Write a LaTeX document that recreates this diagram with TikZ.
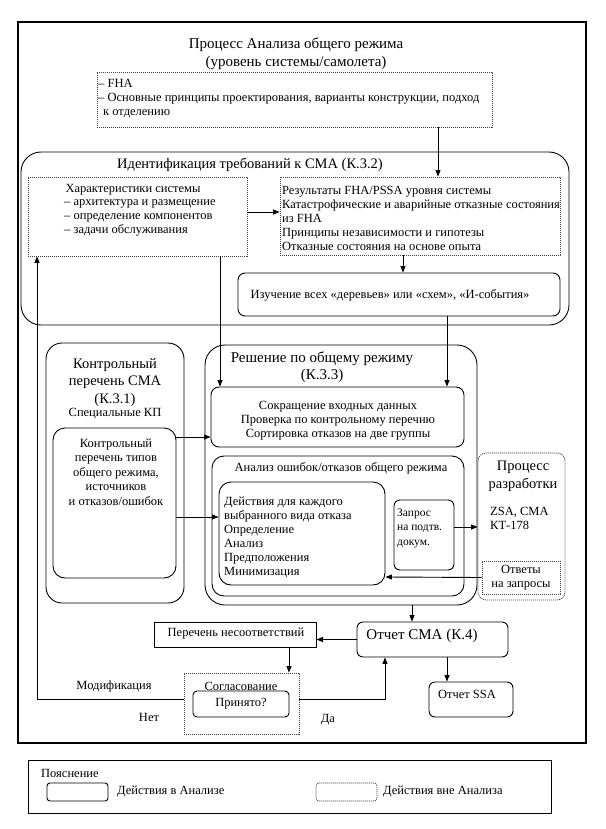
\documentclass[tikz,border=0pt]{standalone}
\usepackage{fontspec}
\setmainfont{Liberation Serif}
\usetikzlibrary{arrows.meta,fit,calc}
\tikzset{
 box/.style={draw, line width=0.9pt, rounded corners=6pt, inner sep=0pt},
 dbox/.style={draw=black!75, dash pattern=on 1.2pt off 0.8pt, line width=0.7pt, inner sep=0pt},
 sbox/.style={draw, line width=1pt, inner sep=0pt},
 arr/.style={-{Triangle[length=6.5pt,width=5pt]}, line width=0.9pt},
 t/.style={inner sep=0pt, font=\fontsize{12.5}{14}\selectfont, align=center},
 tl/.style={t, align=left, anchor=west},
 big/.style={inner sep=0pt, font=\fontsize{15}{18}\selectfont, align=center},
}
\begin{document}
\begin{tikzpicture}[x=1pt,y=-1pt]
\useasboundingbox (0,0) rectangle (605,829);
% outer frame
\node[sbox, line width=1.1pt, fit={(18,22) (586,743)}] (outer) {};
\node[big] (title) at (296,53.5) {Процесс Анализа общего режима\\(уровень системы/самолета)};
% FHA
\node[dbox, fit={(97,72) (492,127)}] (fha) {};
\node[tl] (fhat) at (98,99) {– FHA\\– Основные принципы проектирования, варианты конструкции, подход\\\hspace*{5pt}к отделению};
% identification
\node[box, rounded corners=20pt, fit={(21,152) (569,325)}] (ident) {};
\node[big, font=\fontsize{14.5}{16}\selectfont] (identt) at (250,165) {Идентификация требований к СМА (К.3.2)};
\node[dbox, fit={(28,177) (247,256)}] (char) {};
\node[t] (chart) at (133,190) {Характеристики системы};
\node[tl] (chari) at (64,218) {– архитектура и размещение\\– определение компонентов\\– задачи обслуживания};
\node[dbox, fit={(280,177) (560,255)}] (res) {};
\node[tl] (rest) at (282,218) {Результаты FHA/PSSA уровня системы\\Катастрофические и аварийные отказные состояния\\из FHA\\Принципы независимости и гипотезы\\Отказные состояния на основе опыта};
\node[box, rounded corners=7pt, fit={(238,273) (560,316)}] (study) {};
\node[t] (studyt) at (390,295) {Изучение всех «деревьев» или «схем», «И-события»};
% checklist
\node[box, rounded corners=16pt, fit={(46,343) (184,603)}] (kp) {};
\node[big, font=\fontsize{14.5}{17.5}\selectfont] (kpt) at (115,382.5) {Контрольный\\перечень СМА\\(К.3.1)};
\node[t] (kps) at (115,414) {Специальные КП};
\node[box, rounded corners=12pt, fit={(53,428) (176,578)}] (kpin) {};
\node[t, font=\fontsize{12.5}{14.5}\selectfont] (kpint) at (116,472) {Контрольный\\перечень типов\\общего режима,\\источников\\и отказов/ошибок};
% decision
\node[box, rounded corners=20pt, fit={(205,345) (477,605)}] (resh) {};
\node[big, font=\fontsize{15}{16.5}\selectfont] (resht) at (322,367) {Решение по общему режиму\\(К.3.3)};
\node[box, rounded corners=8pt, fit={(211,387) (464,447)}] (sokr) {};
\node[t] (sokrt) at (338,421) {Сокращение входных данных\\Проверка по контрольному перечню\\Сортировка отказов на две группы};
\node[box, rounded corners=12pt, fit={(212,456) (464,596)}] (an) {};
\node[t] (ant) at (341,468) {Анализ ошибок/отказов общего режима};
\node[box, rounded corners=12pt, fit={(219,482) (385,585)}] (deist) {};
\node[tl] (deistt) at (224,537.5) {Действия для каждого\\выбранного вида отказа\\Определение\\Анализ\\Предположения\\Минимизация};
\node[box, rounded corners=6pt, fit={(394,500) (454,570)}] (zap) {};
\node[tl, font=\fontsize{11.5}{14.5}\selectfont] (zapt) at (397,528) {Запрос\\на подтв.\\докум.};
% development process
\node[dbox, rounded corners=8pt, fit={(478,453) (565,600)}] (razr) {};
\node[big, font=\fontsize{14.5}{18}\selectfont] (razrt) at (523,476.5) {Процесс\\разработки};
\node[tl] (razri) at (490,518) {ZSA, СМА\\КТ-178};
\node[dbox, fit={(482,561) (560,594)}] (otv) {};
\node[t] (otvt) at (521,578) {Ответы\\на запросы};
% reports
\node[box, rounded corners=6pt, fit={(357,622) (508,657)}] (otch) {};
\node[big] (otcht) at (422,636) {Отчет СМА (К.4)};
\node[sbox, fit={(154,622) (316,647)}] (per) {};
\node[t] (pert) at (236,634) {Перечень несоответствий};
\node[dbox, fit={(184,673) (299,734)}] (sog) {};
\node[t] (sogt) at (241,686) {Согласование};
\node[box, rounded corners=4pt, fit={(193,691) (289,717)}] (prin) {};
\node[t] (print) at (241,704) {Принято?};
\node[box, rounded corners=6pt, fit={(429,682) (513,717)}] (ssa) {};
\node[t] (ssat) at (467,694) {Отчет SSA};
\node[t] (modif) at (114,686) {Модификация};
\node[t] (net) at (149,717) {Нет};
\node[t] (da) at (328,720) {Да};
% connectors
\draw[arr] ([xshift=143.5pt]fha.south) -- ([xshift=18pt]res.north);
\draw[arr] ([yshift=4.5pt]char.east) -- ([yshift=4pt]res.west);
\draw[arr] ([xshift=-17pt]res.south) -- ([xshift=4pt]study.north);
\draw[arr] ([xshift=82.5pt]char.south) -- ([xshift=-117.5pt]sokr.north);
\draw[arr] ([xshift=48pt]study.south) -- ([xshift=109.5pt]sokr.north);
\draw[arr] ([yshift=66pt]kpin.east) -- ([yshift=-20pt]sokr.west);
\draw[arr] ([yshift=-14pt]kpin.east) -- ([yshift=16.5pt]deist.west);
\draw[arr] ([yshift=8pt]zap.east) -- ([yshift=-0.5pt]razr.west);
\draw[arr] (otv.west) -- ([yshift=-43.5pt]deist.east);
\draw[arr] ([xshift=71pt]resh.south) -- ([xshift=-20.5pt]otch.north);
\draw[arr] (otch.west) -- (otch.west -| per.east);
\draw[arr] ([xshift=54pt]per.south) -- ([xshift=54pt]per.south |- sog.north);
\draw[arr] ([xshift=14.5pt]otch.south) -- ([xshift=14.5pt]otch.south |- ssa.north);
\coordinate (yes) at (385,699);
\coordinate (no) at (37,699);
\draw[arr] ([yshift=4.5pt]sog.east) -- (yes) -- (yes |- otch.south);
\draw[arr] ([yshift=4.5pt]sog.west) -- (no) -- (no |- char.south);
% legend
\node[sbox, fit={(28,760) (551,813)}] (leg) {};
\node[t, anchor=west] (legt) at (41,773) {Пояснение};
\node[box, rounded corners=3pt, fit={(47,783) (108,801)}] (legA) {};
\node[t, anchor=west] (legAt) at (117,792) {Действия в Анализе};
\node[dbox, rounded corners=3pt, fit={(316,783) (377,801)}] (legB) {};
\node[t, anchor=west] (legBt) at (383,792) {Действия вне Анализа};
\end{tikzpicture}
\end{document}
